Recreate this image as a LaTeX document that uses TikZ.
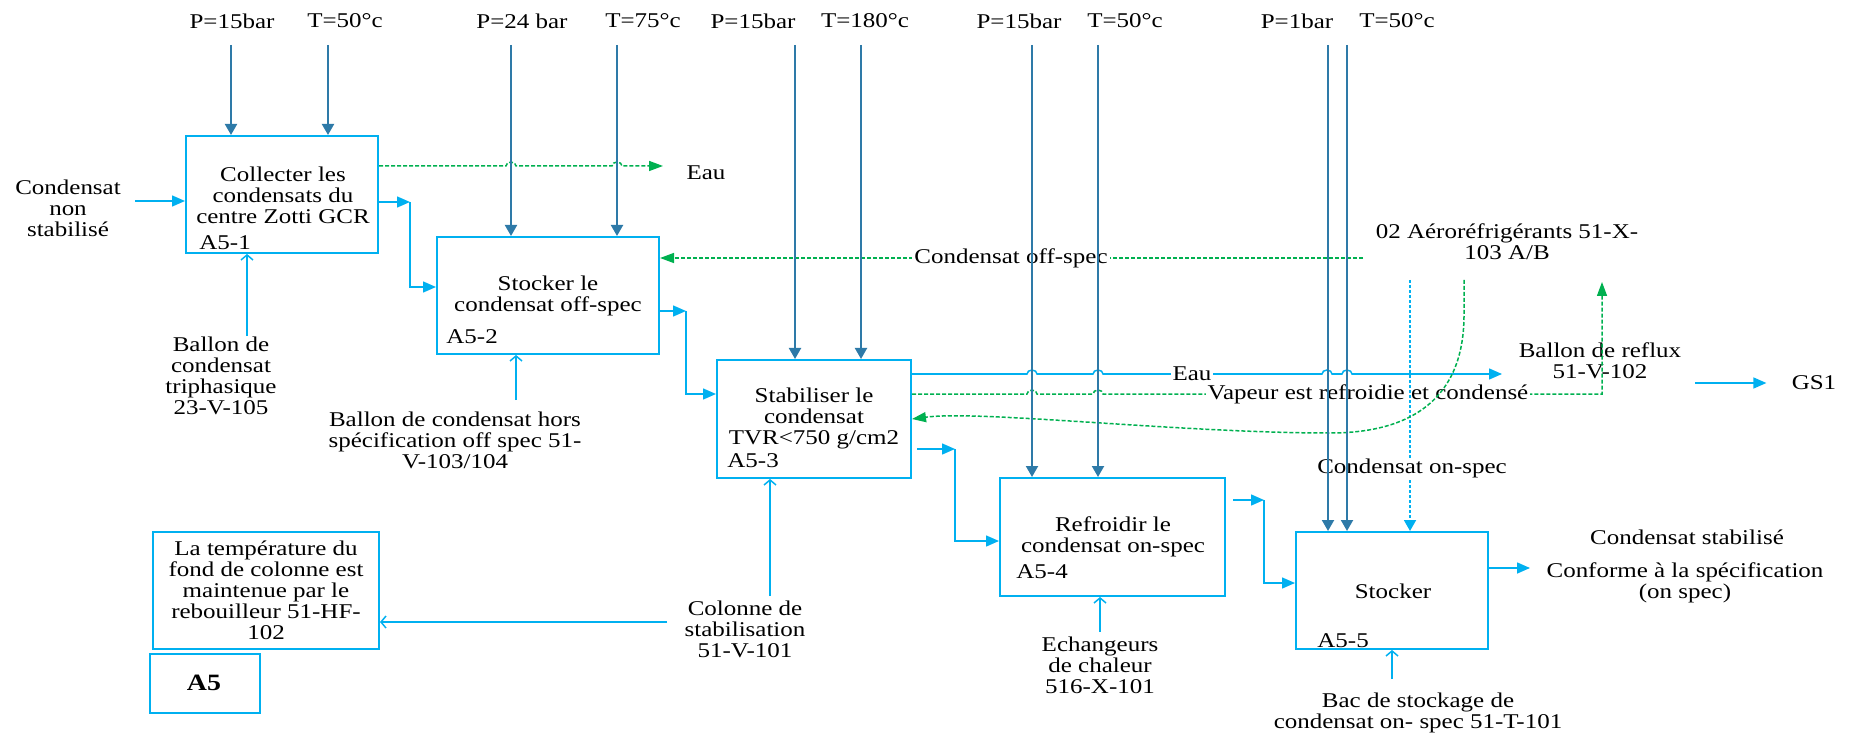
\documentclass[tikz,border=0pt]{standalone}
\usepackage{fontspec}
\setmainfont{Liberation Serif}[FakeStretch=1.19]
\usetikzlibrary{arrows.meta}
\definecolor{boxblue}{HTML}{00B0F0}
\definecolor{feedblue}{HTML}{2E7AA8}
\definecolor{flowgreen}{HTML}{00B050}

\begin{document}
\begin{tikzpicture}[x=0.5pt,y=-0.5pt,
  every node/.style={font=\fontsize{10.5pt}{10.5pt}\selectfont, inner sep=0pt, align=center},
  box/.style 2 args={draw=boxblue, line width=1pt, minimum width=#1*0.5pt, minimum height=#2*0.5pt},
  feed/.style={draw=feedblue, line width=1pt, -{Triangle[length=5.5pt,width=6pt]}},
  flow/.style={draw=boxblue, line width=0.75pt, -{Triangle[length=6.5pt,width=5.5pt]}},
  link/.style={draw=boxblue, line width=0.75pt},
  mech/.style={draw=boxblue, line width=0.75pt, -{Straight Barb[length=2.5pt,width=6pt]}},
  wet/.style={draw=flowgreen, line width=0.75pt, dash pattern=on 2pt off 1pt, -{Triangle[length=7pt,width=5pt]}},
  ondot/.style={draw=boxblue, line width=0.9pt, dash pattern=on 1.5pt off 1pt, -{Triangle[length=5.5pt,width=6pt]}},
  onlabel/.style={fill=white, inner xsep=1pt},
  hop/.style={},
]
\useasboundingbox (0,0) rectangle (1856,737);

% ---- activity boxes
\node[box={192}{117}] (b1) at (282,194.5) {};
\node[box={222}{117}] (b2) at (548,295.5) {};
\node[box={194}{118}] (b3) at (814,419) {};
\node[box={225}{118}] (b4) at (1112.5,537) {};
\node[box={192}{117}] (b5) at (1392,590.5) {};
\node[box={226}{117}] (b6) at (266,590.5) {};
\node[box={110}{59}]  (ba5) at (205,683.5) {};

% ---- box texts
\node (b1t) at (283,195) {Collecter les\\condensats du\\centre Zotti GCR};
\node[anchor=west] (b1id) at (199,243) {A5-1};
\node (b2t) at (548,296) {Stocker le\\condensat off-spec};
\node[anchor=west] (b2id) at (446,337) {A5-2};
\node (b3t) at (814,418) {Stabiliser le\\condensat\\TVR<750 g/cm2};
\node[anchor=west] (b3id) at (727,461) {A5-3};
\node (b4t) at (1113,537) {Refroidir le\\condensat on-spec};
\node[anchor=west] (b4id) at (1016,572) {A5-4};
\node (b5t) at (1393,591) {Stocker};
\node[anchor=west] (b5id) at (1317,641) {A5-5};
\node (b6t) at (266,590.5) {La température du\\fond de colonne est\\maintenue par le\\rebouilleur 51-HF-\\102};
\node[font=\fontsize{11.7pt}{12pt}\selectfont\bfseries] (ba5t) at (204,683) {A5};

% ---- operating conditions
\node (p1) at (232,21) {P=15bar};
\node (t1) at (345,21) {T=50°c};
\node (p2) at (522,21) {P=24 bar};
\node (t2) at (643,21) {T=75°c};
\node (p3) at (753,21) {P=15bar};
\node (t3) at (865,21) {T=180°c};
\node (p4) at (1019,21) {P=15bar};
\node (t4) at (1125,21) {T=50°c};
\node (p5) at (1297,21) {P=1bar};
\node (t5) at (1397,21) {T=50°c};

% ---- inputs, mechanisms and outputs
\node (cin) at (68,208) {Condensat\\non\\stabilisé};
\node (m1) at (221,375.5) {Ballon de\\condensat\\triphasique\\23-V-105};
\node (m2) at (455,440) {Ballon de condensat hors\\spécification off spec 51-\\V-103/104};
\node (m3) at (745,629) {Colonne de\\stabilisation\\51-V-101};
\node (m4) at (1100,665) {Echangeurs\\de chaleur\\516-X-101};
\node (m5) at (1418,712.5) {Bac de stockage de\\condensat on- spec 51-T-101};
\node (eau1) at (706,173) {Eau};
\node (aero) at (1507,242) {02 Aéroréfrigérants 51-X-\\103 A/B};
\node (reflux) at (1600,361) {Ballon de reflux\\51-V-102};
\node (gs1) at (1814,383) {GS1};
\node (stab) at (1687,537) {Condensat stabilisé};
\node (conf) at (1685,582.5) {Conforme à la spécification\\(on spec)};

% ---- junction points
\coordinate (cinA) at (135,201);
\coordinate (j1) at (410,202);  \coordinate (k1) at (410,287);
\coordinate (j2) at (686,311);  \coordinate (k2) at (686,394);
\coordinate (j3) at (955,449);  \coordinate (k3) at (955,541);
\coordinate (j4) at (1264,500); \coordinate (k4) at (1264,583);
\coordinate (eauA) at (663,166);
\coordinate (offA) at (1363,258);
\coordinate (eauB) at (1502,374);
\coordinate (vapC) at (1602,394);
\coordinate (reflA) at (1602,282);
\coordinate (aeroG) at (1464,280);
\coordinate (aeroB) at (1410,280);
\coordinate (outA) at (1530,568);
\coordinate (gsA) at (1695,383);
\coordinate (colA) at (667,622);

% ---- main flow
\draw[flow] (cinA) -- (cinA -| b1.west);
\draw[flow] (b1.east |- j1) -- (j1);
\draw[flow] (j1) -- (k1) -- (k1 -| b2.west);
\draw[flow] (b2.east |- j2) -- (j2);
\draw[flow] (j2) -- (k2) -- (k2 -| b3.west);
\draw[flow] ([xshift=2.5pt]b3.east |- j3) -- (j3);
\draw[flow] (j3) -- (k3) -- (k3 -| b4.west);
\draw[flow] ([xshift=3.5pt]b4.east |- j4) -- (j4);
\draw[flow] (j4) -- (k4) -- (k4 -| b5.west);
\draw[flow] (b5.east |- outA) -- (outA);
\draw[flow] (gsA) -- ([xshift=-12.5pt]gs1.west);

% ---- mechanisms
\draw[mech] (m1.north -| 247,0) -- (247,0 |- b1.south);
\draw[mech] (516,400) -- (516,0 |- b2.south);
\draw[mech] (770,596) -- (770,0 |- b3.south);
\draw[mech] (1100,632) -- (1100,0 |- b4.south);
\draw[mech] (1392,679) -- (1392,0 |- b5.south);
\draw[mech] (colA) -- (colA -| b6.east);

% ---- water and vapour streams
\draw[wet] (b1.east |- eauA) -- (506,166)
  arc[start angle=180,end angle=0,x radius=2.5pt,y radius=2pt] -- (612,166)
  arc[start angle=180,end angle=0,x radius=2.5pt,y radius=2pt] -- (eauA);
\draw[wet] (offA) -- (offA -| b2.east);
\draw[flow] (b3.east |- eauB) -- (1027,374)
  arc[start angle=180,end angle=0,x radius=2.5pt,y radius=2pt] -- (1093,374)
  arc[start angle=180,end angle=0,x radius=2.5pt,y radius=2pt] -- (1322,374)
  arc[start angle=180,end angle=0,x radius=2.5pt,y radius=2pt] -- (1342,374)
  arc[start angle=180,end angle=0,x radius=2.5pt,y radius=2pt] -- (eauB);
\draw[wet] (b3.east |- vapC) -- (1027,394)
  arc[start angle=180,end angle=0,x radius=2.5pt,y radius=2pt] -- (1093,394)
  arc[start angle=180,end angle=0,x radius=2.5pt,y radius=2pt] -- (vapC) -- (reflA);

% ---- stream labels set on their lines
\node[onlabel] (offl) at (1011,258) {Condensat off-spec};
\node[onlabel] (eau2) at (1192,374) {Eau};
\node[onlabel] (vapl) at (1368,394) {Vapeur est refroidie et condensé};

% ---- condensate from the air coolers
\draw[ondot] (aeroB) -- (aeroB |- b5.north);
\node[onlabel] (onl) at (1412,468) {Condensat on-spec};
\draw[wet] (aeroG) -- (1464,315) .. controls (1464,400) and (1410,433) .. (1330,433)
  .. controls (1180,433) and (980,410) .. (b3.east);

% ---- operating conditions feeds
\foreach \x/\b in {231/b1,328/b1,511/b2,617/b2,795/b3,861/b3,1032/b4,1098/b4,1328/b5,1347/b5}{
  \coordinate (top-\x) at (\x,45);
  \draw[feed] (top-\x) -- (top-\x |- \b.north);
}
\end{tikzpicture}
\end{document}
